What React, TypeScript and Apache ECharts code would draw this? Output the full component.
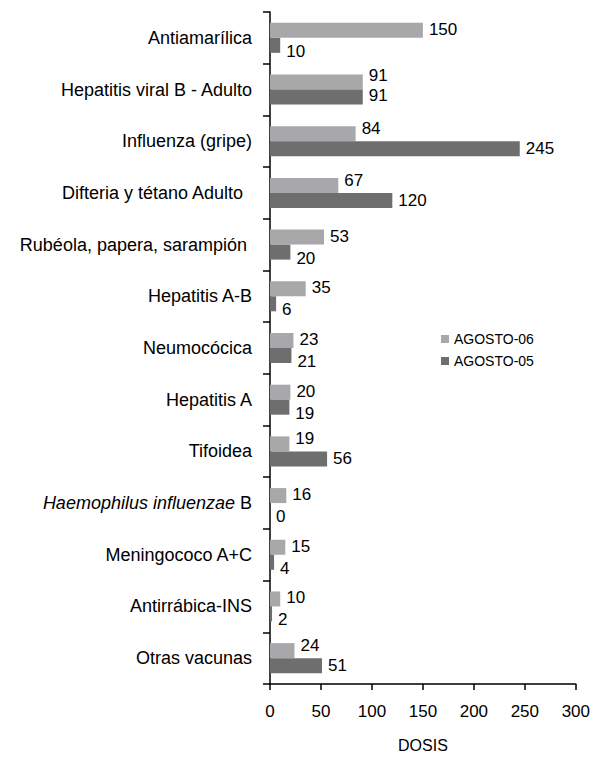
import React, { useEffect, useRef } from "react";
import * as echarts from "echarts";

const categories = [
  "Antiamarílica",
  "Hepatitis viral B - Adulto",
  "Influenza (gripe)",
  "Difteria y tétano Adulto",
  "Rubéola, papera, sarampión",
  "Hepatitis A-B",
  "Neumocócica",
  "Hepatitis A",
  "Tifoidea",
  "Haemophilus influenzae B",
  "Meningococo A+C",
  "Antirrábica-INS",
  "Otras vacunas",
];
const agosto06 = [150, 91, 84, 67, 53, 35, 23, 20, 19, 16, 15, 10, 24];
const agosto05 = [10, 91, 245, 120, 20, 6, 21, 19, 56, 0, 4, 2, 51];
const seriesNames = ["AGOSTO-06", "AGOSTO-05"];
const xTicks = { min: 0, max: 300, interval: 50 };
const axisTitle = "DOSIS";

const FONT = "'Liberation Sans', Arial, sans-serif";

export default function App() {
  const ref = useRef<HTMLDivElement>(null);
  useEffect(() => {
    if (!ref.current) return;
    const chart = echarts.init(ref.current, null, { renderer: "svg" });

    // Label collision avoidance like the original: the label of the shorter
    // bar's neighbour is nudged away.
    const lightData = agosto06.map((v, i) => ({
      value: v,
      label: { offset: [0, v > agosto05[i] ? -1 : v === agosto05[i] ? -7 : -5] },
    }));
    const darkData = agosto05.map((v, i) => ({
      value: v,
      label: { offset: [0, agosto06[i] > v ? 6 : agosto06[i] === v ? -2 : 0] },
    }));

    const catData = categories.map((c) => {
      if (c === "Difteria y tétano Adulto")
        return { value: c, textStyle: { padding: [0, 9, 0, 0] } };
      if (c === "Rubéola, papera, sarampión")
        return { value: c, textStyle: { padding: [0, 5, 0, 0] } };
      return c;
    });

    chart.setOption({
      animation: false,
      backgroundColor: "#ffffff",
      textStyle: { fontFamily: FONT },
      grid: { left: 270, right: 14, top: 12, bottom: 65, containLabel: false },
      legend: {
        orient: "vertical",
        left: 436,
        top: 327,
        itemWidth: 8,
        itemHeight: 8,
        itemGap: 8,
        icon: "rect",
        data: seriesNames,
        textStyle: { fontSize: 14, color: "#000", fontFamily: FONT },
      },
      xAxis: {
        type: "value",
        min: xTicks.min,
        max: xTicks.max,
        interval: xTicks.interval,
        name: axisTitle,
        nameLocation: "middle",
        nameGap: 53,
        nameTextStyle: { fontSize: 16, color: "#000", fontFamily: FONT },
        axisLine: { show: true, lineStyle: { color: "#000", width: 1.5 } },
        axisTick: { show: true, length: 6, lineStyle: { color: "#000", width: 1.5 } },
        axisLabel: { fontSize: 17, color: "#000", margin: 19, fontFamily: FONT },
        splitLine: { show: false },
      },
      yAxis: {
        type: "category",
        inverse: true,
        data: catData,
        axisLine: { show: true, lineStyle: { color: "#000", width: 1.5 } },
        axisTick: { show: true, length: 7, lineStyle: { color: "#000", width: 1.5 } },
        axisLabel: {
          fontSize: 18,
          color: "#000",
          margin: 18,
          fontFamily: FONT,
          formatter: (v: string) =>
            v === "Haemophilus influenzae B" ? "{i|Haemophilus influenzae} B" : v,
          rich: {
            i: { fontStyle: "italic", fontSize: 18, color: "#000", fontFamily: FONT },
          },
        },
      },
      series: [
        {
          name: seriesNames[0],
          type: "bar",
          data: lightData,
          barWidth: 15,
          barGap: "0%",
          itemStyle: { color: "#A8A8AB" },
          label: {
            show: true,
            position: "right",
            distance: 6,
            fontSize: 17,
            color: "#000",
            fontFamily: FONT,
          },
        },
        {
          name: seriesNames[1],
          type: "bar",
          data: darkData,
          barWidth: 15,
          barGap: "0%",
          itemStyle: { color: "#6E6E6E" },
          label: {
            show: true,
            position: "right",
            distance: 6,
            fontSize: 17,
            color: "#000",
            fontFamily: FONT,
          },
        },
      ],
    });
    return () => chart.dispose();
  }, []);
  return (
    <div
      ref={ref}
      style={{ position: "fixed", left: 0, top: 0, width: 593, height: 758 }}
    />
  );
}
